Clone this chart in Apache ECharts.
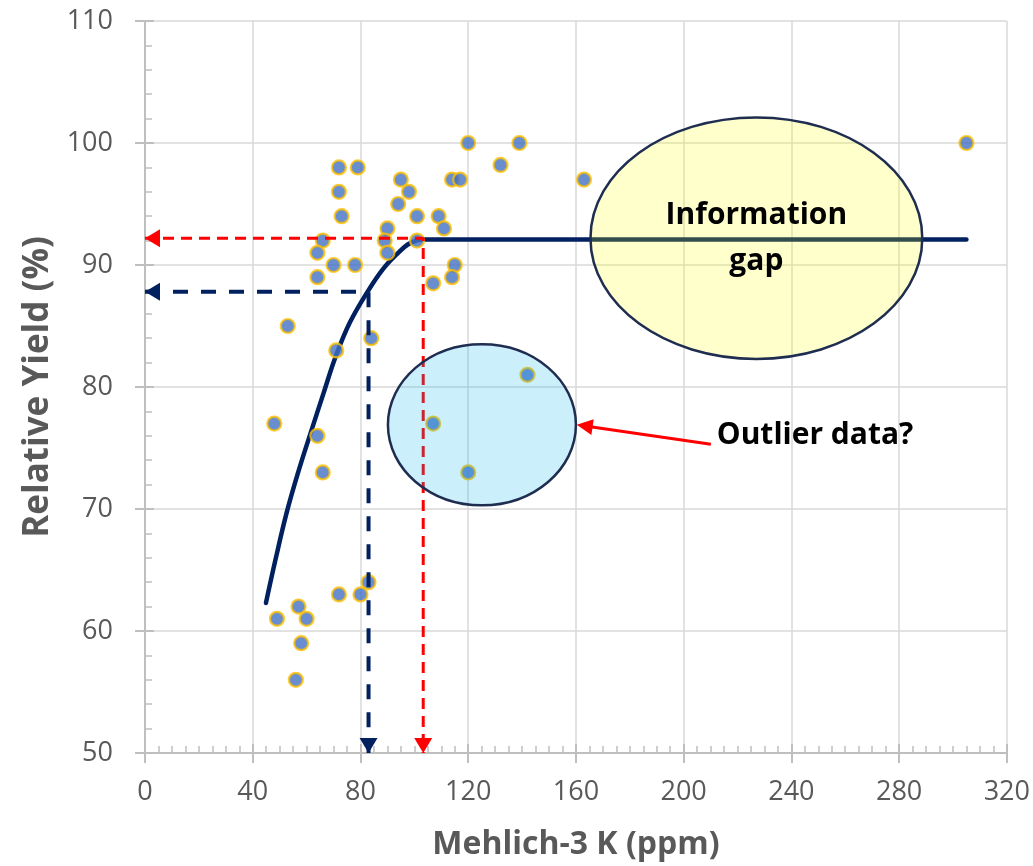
<!DOCTYPE html>
<html>
<head>
<meta charset="utf-8">
<script src="https://cdn.jsdelivr.net/npm/echarts@6/dist/echarts.min.js"></script>
<style>
html, body { margin: 0; padding: 0; background: #fff; }
#chart { width: 1033px; height: 866px; }
</style>
</head>
<body>
<div id="chart"></div>
<script>
// observed points: Mehlich-3 K (ppm) and relative yield (%)
const soilK = [120, 132, 139, 305, 72, 79, 95, 114, 117, 163, 72, 98, 94, 73, 101, 109,
  111, 90, 66, 89, 101, 64, 90, 70, 78, 115, 64, 114, 107, 53, 84, 71,
  48, 107, 64, 66, 120, 142, 83, 72, 80, 57, 49, 60, 58, 56];
const relYield = [100, 98.2, 100, 100, 98, 98, 97, 97, 97, 97, 96, 96, 95, 94, 94, 94,
  93, 93, 92, 92, 92, 91, 91, 90, 90, 90, 89, 89, 88.5, 85, 84, 83,
  77, 77, 76, 73, 73, 81, 64, 63, 63, 62, 61, 61, 59, 56];

// fitted response curve
const curveK = [44.9, 48.5, 52.6, 57.0, 61.6, 66.3, 70.8, 76.1, 82.9, 88.5, 94.0, 97.7, 101.4, 103.3, 305];
const curveY = [62.3, 65.9, 69.7, 73.1, 76.3, 79.5, 82.5, 85.3, 87.9, 89.7, 91.0, 91.7, 92.05, 92.1, 92.1];

// guide lines: [K, yield] where they leave the curve
const navyGuide = [83, 87.8];
const redGuide = [103.3, 92.2];

// annotation shapes in data units: [centerK, centerY, radiusK, radiusY]
const gapEllipse = [227, 92.2, 61.6, 9.9];
const outlierEllipse = [125.1, 76.9, 34.9, 6.6];
const outlierText = [212.3, 76.0];
const outlierArrow = [[210.1, 75.3], [160.3, 76.9]];

const X_MIN = 0, X_MAX = 320, X_STEP = 40;
const Y_MIN = 50, Y_MAX = 110, Y_STEP = 10;

const NAVY = '#002060';
const RED = '#ff0000';
const GREY = '#595959';
const FONT = 'Open Sans';

const chart = echarts.init(document.getElementById('chart'));

function pairs(xs, ys) { return xs.map((x, i) => [x, ys[i]]); }

const baseAxis = {
  type: 'value',
  axisLine: { show: true, lineStyle: { color: '#bfbfbf', width: 2 } },
  axisTick: { show: true, length: 10, lineStyle: { color: '#bfbfbf', width: 2 } },
  axisLabel: { color: GREY, fontSize: 27, fontFamily: FONT },
  splitLine: { show: true, lineStyle: { color: '#d9d9d9', width: 1.5 } },
  nameLocation: 'middle',
  nameTextStyle: { color: GREY, fontWeight: 'bold', fontFamily: FONT }
};

// second axis on the same side: only the inside ticks and minor ticks
const innerAxis = {
  type: 'value',
  axisLine: { show: false },
  axisTick: { show: true, inside: true, length: 9, lineStyle: { color: '#bfbfbf', width: 2 } },
  minorTick: { show: true, length: 7, lineStyle: { color: '#bfbfbf', width: 1.5 } },
  axisLabel: { show: false },
  splitLine: { show: false }
};

const dashed = (color, width, dash) => ({ color, width, type: dash });

chart.setOption({
  animation: false,
  grid: { left: 145, right: 26, top: 21, bottom: 110 },
  xAxis: [
    Object.assign({}, baseAxis, {
      min: X_MIN, max: X_MAX, interval: X_STEP, position: 'bottom',
      name: 'Mehlich-3 K (ppm)', nameGap: 76,
      nameTextStyle: Object.assign({}, baseAxis.nameTextStyle, { fontSize: 32 }),
      axisLabel: Object.assign({}, baseAxis.axisLabel, { margin: 26 })
    }),
    Object.assign({}, innerAxis, {
      min: X_MIN, max: X_MAX, interval: X_STEP, position: 'bottom',
      minorTick: Object.assign({}, innerAxis.minorTick, { splitNumber: 8 })
    })
  ],
  yAxis: [
    Object.assign({}, baseAxis, {
      min: Y_MIN, max: Y_MAX, interval: Y_STEP, position: 'left',
      name: 'Relative Yield (%)', nameGap: 88,
      nameTextStyle: Object.assign({}, baseAxis.nameTextStyle, { fontSize: 35 }),
      axisLabel: Object.assign({}, baseAxis.axisLabel, { margin: 32 })
    }),
    Object.assign({}, innerAxis, {
      min: Y_MIN, max: Y_MAX, interval: Y_STEP, position: 'left',
      minorTick: Object.assign({}, innerAxis.minorTick, { splitNumber: 5 })
    })
  ],
  series: [
    {
      type: 'line', name: 'fit', z: 2,
      data: pairs(curveK, curveY),
      smooth: 0.4,
      symbol: 'none',
      lineStyle: { color: NAVY, width: 4.5, cap: 'round' }
    },
    {
      type: 'scatter', name: 'obs', z: 3,
      data: pairs(soilK, relYield),
      symbolSize: 14,
      itemStyle: { color: '#4472c4', borderColor: '#ffc000', borderWidth: 2.2 }
    },
    {
      type: 'line', z: 4, symbol: 'none',
      data: [[X_MIN, navyGuide[1]], navyGuide, [navyGuide[0], Y_MIN]],
      lineStyle: dashed(NAVY, 4, [15, 13])
    },
    {
      type: 'line', z: 4, symbol: 'none',
      data: [[X_MIN, redGuide[1]], redGuide, [redGuide[0], Y_MIN]],
      lineStyle: dashed(RED, 3, [11, 7])
    }
  ]
});

// annotations placed through the grid's own scales
function px(p) { return chart.convertToPixel({ gridIndex: 0 }, p); }

function arrowHead(tip, dirX, dirY, len, half, color) {
  const bx = tip[0] - dirX * len, by = tip[1] - dirY * len;
  return {
    type: 'polygon', z: 60,
    shape: { points: [tip, [bx - dirY * half, by + dirX * half], [bx + dirY * half, by - dirX * half]] },
    style: { fill: color }
  };
}

function ellipse(e, fill) {
  const c = px([e[0], e[1]]);
  const r = px([e[0] + e[2], e[1] + e[3]]);
  return {
    type: 'ellipse', z: 50,
    shape: { cx: c[0], cy: c[1], rx: r[0] - c[0], ry: c[1] - r[1] },
    style: { fill, stroke: '#1f2d50', lineWidth: 2.5 }
  };
}

const gapC = px([gapEllipse[0], gapEllipse[1]]);
const outT = px(outlierText);
const aFrom = px(outlierArrow[0]);
const aTo = px(outlierArrow[1]);
const dx = aTo[0] - aFrom[0], dy = aTo[1] - aFrom[1];
const dl = Math.hypot(dx, dy);
const ux = dx / dl, uy = dy / dl;

chart.setOption({
  graphic: [
    arrowHead(px([X_MIN, navyGuide[1]]), -1, 0, 15, 9, NAVY),
    arrowHead(px([navyGuide[0], Y_MIN]), 0, 1, 15, 9, NAVY),
    arrowHead(px([X_MIN, redGuide[1]]), -1, 0, 15, 9, RED),
    arrowHead(px([redGuide[0], Y_MIN]), 0, 1, 15, 9, RED),
    ellipse(gapEllipse, 'rgba(255,255,0,0.2)'),
    ellipse(outlierEllipse, 'rgba(0,176,240,0.2)'),
    {
      type: 'text', z: 70,
      x: gapC[0], y: gapC[1],
      style: {
        text: 'Information\ngap', fill: '#000', font: 'bold 30px "Open Sans"',
        align: 'center', verticalAlign: 'middle', lineHeight: 46
      }
    },
    {
      type: 'text', z: 70,
      x: outT[0], y: outT[1],
      style: {
        text: 'Outlier data?', fill: '#000', font: 'bold 30px "Open Sans"',
        align: 'left', verticalAlign: 'middle'
      }
    },
    {
      type: 'line', z: 60,
      shape: { x1: aFrom[0], y1: aFrom[1], x2: aTo[0] - ux * 12, y2: aTo[1] - uy * 12 },
      style: { stroke: RED, lineWidth: 3 }
    },
    arrowHead(aTo, ux, uy, 16, 8, RED)
  ]
});
</script>
</body>
</html>
